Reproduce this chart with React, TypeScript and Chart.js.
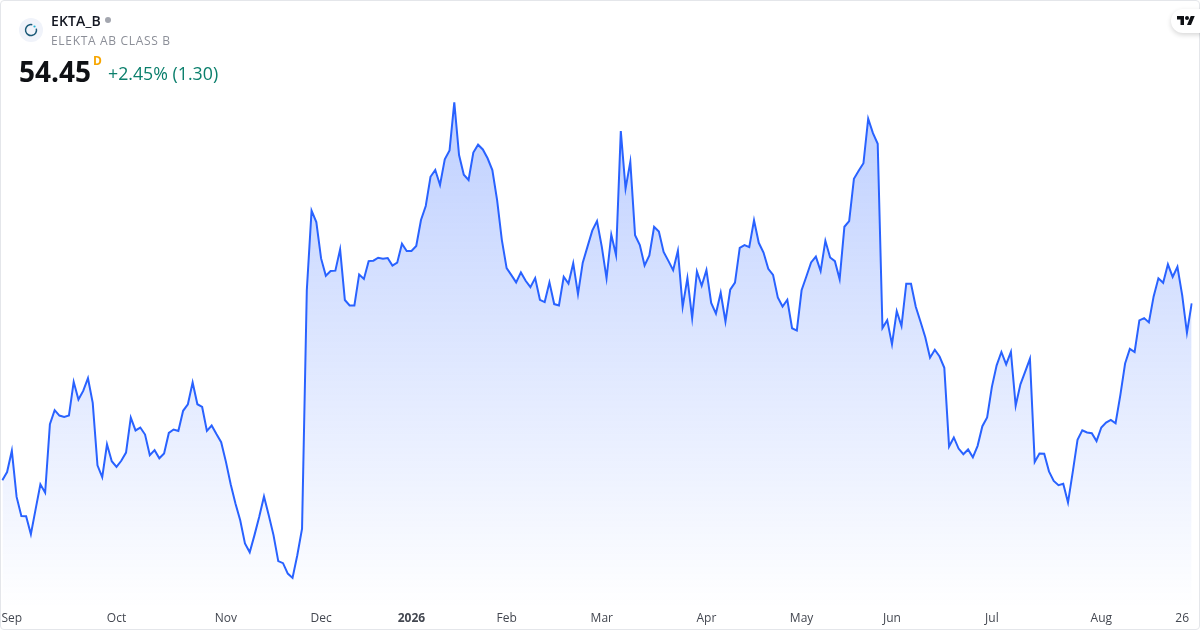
import React, { useEffect, useRef } from "react";
import { Chart, registerables } from "chart.js";

Chart.register(...registerables);

const closes: number[] = [
  46.63, 46.99, 47.93, 45.89, 45.05, 45.04, 44.24, 45.35, 46.45, 46.08,
  49.11, 49.73, 49.49, 49.43, 49.49, 50.98, 50.2, 50.58, 51.14, 50.05,
  47.29, 46.76, 48.22, 47.47, 47.22, 47.49, 47.85, 49.4, 48.83, 48.96,
  48.65, 47.74, 47.96, 47.6, 47.81, 48.72, 48.87, 48.81, 49.7, 49.99,
  50.95, 49.99, 49.87, 48.81, 49.05, 48.67, 48.31, 47.44, 46.45, 45.6,
  44.86, 43.83, 43.44, 44.2, 45.01, 45.91, 45.08, 44.2, 43.05, 42.96,
  42.5, 42.31, 43.31, 44.49,
  55.04, 58.55, 58.05, 56.44, 55.67, 55.88, 55.9, 56.84, 54.6, 54.36,
  54.36, 55.73, 55.53, 56.32, 56.34, 56.47, 56.43, 56.46, 56.12, 56.25,
  57.09, 56.77, 56.77, 56.99, 58.14, 58.76, 60.05, 60.35, 59.69, 60.82,
  61.21, 63.34, 61.01, 60.14, 59.91, 61.12, 61.47, 61.26, 60.87, 60.35,
  59.02, 57.25, 56.01, 55.7, 55.38, 55.82, 55.45, 55.17, 55.57, 54.61,
  54.51, 55.38, 54.42, 54.36, 55.63, 55.33, 56.23, 54.86, 56.25, 56.96,
  57.67, 58.09, 56.96, 55.56, 57.49, 56.59,
  62.07, 59.53, 60.71, 57.47, 57.03, 56.13, 56.57, 57.84, 57.63, 56.73,
  56.33, 55.92, 56.78, 54.3, 55.57, 53.8, 55.86, 55.23, 55.92, 54.47,
  54.0, 54.92, 53.65, 55.06, 55.37, 56.91, 57.03, 56.94, 58.13, 57.13,
  56.7, 55.98, 55.71, 54.71, 54.31, 54.61, 53.35, 53.25, 55.03, 55.64,
  56.26, 56.52, 55.88, 57.22, 56.48, 56.32, 55.52, 57.84, 58.09, 59.96,
  60.32, 60.65, 62.62, 61.98, 61.51,
  53.36, 53.71, 52.64, 54.11, 53.45, 55.32, 55.32, 54.3, 53.64, 52.95,
  52.05, 52.4, 52.1, 51.6, 48.12, 48.52, 48.03, 47.78, 47.99, 47.64,
  48.15, 49.02, 49.41, 50.76, 51.71, 52.3, 51.75, 52.3, 49.92, 50.87,
  51.43, 52.0, 47.44, 47.81, 47.8, 47.02, 46.6, 46.41, 46.47, 45.64,
  47.0, 48.42, 48.84, 48.74, 48.71, 48.36, 48.96, 49.18, 49.3, 49.15,
  50.39, 51.79, 52.44, 52.3, 53.7, 53.8, 53.61, 54.76, 55.56, 55.36,
  56.18, 55.62, 56.07, 54.82, 53.15, 54.45,
];

const tickLabels = ["Sep", "Oct", "Nov", "Dec", "2026", "Feb", "Mar", "Apr", "May", "Jun", "Jul", "Aug", "26"];
const tickIndices = [2, 24, 47, 67, 86, 106, 126, 148, 168, 187, 208, 231, 248];
const categories = closes.map((_, i) => {
  const at = tickIndices.indexOf(i);
  return at >= 0 ? tickLabels[at] : "";
});

const FONT = '"Open Sans", sans-serif';

export default function App() {
  const ref = useRef<HTMLCanvasElement>(null);

  useEffect(() => {
    document.body.style.margin = "0";
    document.body.style.background = "#fff";
    const chart = new Chart(ref.current!, {
      type: "line",
      data: {
        labels: categories,
        datasets: [
          {
            data: closes,
            borderColor: "#2962FF",
            borderWidth: 2,
            pointRadius: 0,
            tension: 0,
            fill: "start",
            backgroundColor: (ctx: any) => {
              const { ctx: c } = ctx.chart;
              const g = c.createLinearGradient(0, 100, 0, 610);
              g.addColorStop(0, "rgba(41,98,255,0.30)");
              g.addColorStop(1, "rgba(41,98,255,0)");
              return g;
            },
          },
        ],
      },
      options: {
        animation: false,
        responsive: false,
        devicePixelRatio: 1,
        layout: { padding: { left: 2.33, right: 8.3, top: 0, bottom: 0 } },
        plugins: { legend: { display: false }, tooltip: { enabled: false } },
        scales: {
          y: { display: false, min: 41.11, max: 67.87 },
          x: {
            offset: false,
            grid: { display: false, drawOnChartArea: false, drawTicks: true, tickLength: 3.67, tickColor: "rgba(0,0,0,0)" },
            border: { display: false },
            afterFit: (scale: any) => {
              scale.height = 25;
            },
            ticks: {
              autoSkip: false,
              maxRotation: 0,
              minRotation: 0,
              padding: 2.33,
              color: "#434750",
              font: (ctx: any) => ({
                family: FONT,
                size: 12,
                weight: ctx.tick && ctx.tick.label === "2026" ? "bold" : "normal",
              }),
            },
          },
        },
      },
    } as any);
    return () => chart.destroy();
  }, []);

  const text = (left: number, top: number, style: React.CSSProperties): React.CSSProperties => ({
    position: "absolute",
    left,
    top,
    fontFamily: FONT,
    whiteSpace: "nowrap",
    lineHeight: 1,
    ...style,
  });

  return (
    <div style={{ position: "relative", width: 1200, height: 630, overflow: "hidden", background: "#fff" }}>
      <canvas ref={ref} width={1200} height={630} style={{ position: "absolute", left: 0, top: 0, display: "block" }} />
      <div
        style={{
          position: "absolute",
          inset: 0,
          boxSizing: "border-box",
          border: "1px solid #e4e6ea",
          borderRadius: 4,
          pointerEvents: "none",
        }}
      />
      <svg width={24} height={24} viewBox="0 0 24 24" style={{ position: "absolute", left: 19, top: 18 }}>
        <circle cx={12} cy={12} r={12} fill="#f0f3fa" />
        <circle cx={12} cy={12} r={5.5} fill="none" stroke="#1c5a78" strokeWidth={1.5} strokeDasharray="28 7" transform="rotate(-15 12 12)" />
        <circle cx={15.5} cy={8.5} r={1.1} fill="#22b5d6" />
      </svg>
      <div style={text(51, 14, { fontSize: 14, fontWeight: 600, color: "#131722", letterSpacing: 0.15 })}>EKTA_B</div>
      <div style={{ position: "absolute", left: 105, top: 17, width: 6, height: 6, borderRadius: 3, background: "#a3a6af" }} />
      <div style={text(51, 35, { fontSize: 12, color: "#8c8f98", letterSpacing: 0.68 })}>ELEKTA AB CLASS B</div>
      <div style={text(19, 57, { fontSize: 28, fontWeight: 700, color: "#0f1115" })}>54.45</div>
      <div style={text(93, 55, { fontSize: 12, fontWeight: 700, color: "#f7a600" })}>D</div>
      <div style={text(108, 65, { fontSize: 17.75, color: "#0b7f6c" })}>+2.45% (1.30)</div>
      <div
        style={{
          position: "absolute",
          left: 1171,
          top: 9,
          width: 40,
          height: 24,
          borderRadius: 12,
          background: "#fff",
          boxShadow: "0 2px 5px rgba(0,0,0,0.16)",
        }}
      />
      <svg width={18} height={14} viewBox="0 0 36 28" style={{ position: "absolute", left: 1177, top: 14 }}>
        <path d="M14 22H7V11H0V4h14v18ZM28 22h-8l7.5-18h8L28 22Z" fill="#0f1115" />
        <circle cx={20} cy={8} r={4} fill="#0f1115" />
      </svg>
    </div>
  );
}
